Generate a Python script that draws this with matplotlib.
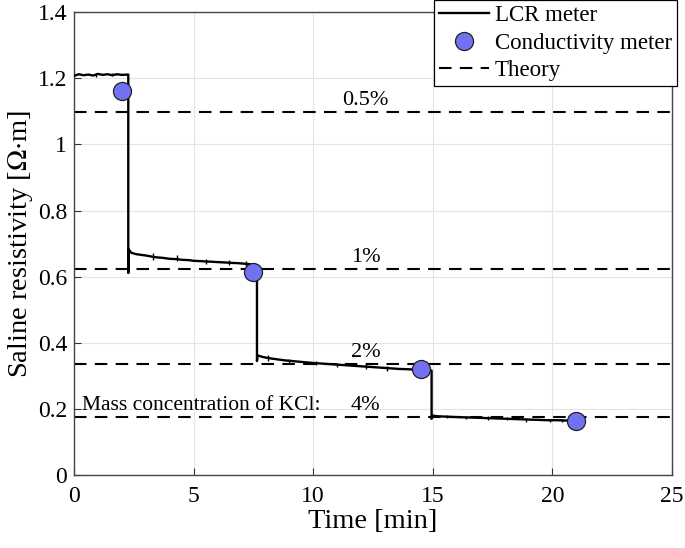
import matplotlib
matplotlib.use('Agg')
import matplotlib.pyplot as plt

plt.rcParams['font.family'] = ['Liberation Serif', 'DejaVu Serif']
plt.rcParams['mathtext.fontset'] = 'stix'

# LCR meter trace
lcr_time = [0.0, 0.2, 0.4, 0.6, 0.8, 1.0, 1.2, 1.4, 1.6, 1.8, 2.0, 2.25,
            2.27, 2.27, 2.28, 2.4, 2.6, 2.8, 3.0, 3.3, 3.5, 3.7, 4.0, 4.3, 4.5,
            4.8, 5.0, 5.3, 5.5, 5.8, 6.0, 6.3, 6.5, 6.8, 7.0, 7.3, 7.62,
            7.65, 7.65, 7.67, 7.9, 8.2, 8.5, 8.8, 9.1, 9.4, 9.7, 10.0, 10.4,
            10.8, 11.2, 11.6, 12.0, 12.4, 12.8, 13.2, 13.6, 14.0, 14.4, 14.9,
            14.95, 14.95, 14.97, 15.2, 15.5, 15.8, 16.2, 16.6, 17.0, 17.4, 17.8,
            18.2, 18.6, 19.0, 19.4, 19.8, 20.2, 20.6, 20.8]
lcr_rho = [1.207, 1.212, 1.209, 1.211, 1.208, 1.213, 1.210, 1.212, 1.209, 1.212, 1.210, 1.211,
           1.211, 0.611, 0.683, 0.672, 0.668, 0.666, 0.664, 0.660, 0.658, 0.657, 0.654, 0.653, 0.651,
           0.650, 0.648, 0.647, 0.646, 0.645, 0.644, 0.643, 0.642, 0.641, 0.640, 0.638, 0.635,
           0.635, 0.345, 0.362, 0.357, 0.353, 0.350, 0.347, 0.345, 0.343, 0.341, 0.339, 0.337,
           0.335, 0.333, 0.331, 0.329, 0.327, 0.325, 0.323, 0.321, 0.320, 0.318, 0.316,
           0.316, 0.170, 0.180, 0.178, 0.177, 0.176, 0.175, 0.174, 0.173, 0.172, 0.171,
           0.170, 0.169, 0.168, 0.167, 0.166, 0.166, 0.165, 0.164]

# short measurement spikes on top of the trace
spike_time = [0.9, 1.6, 3.3, 4.3, 5.5, 6.5, 7.2, 8.1, 9.0, 10.1, 11.0, 12.2, 13.1, 14.2,
              15.6, 16.4, 17.3, 18.1, 18.9, 19.9, 20.4]
spike_low = [1.204, 1.206, 0.650, 0.646, 0.639, 0.635, 0.630, 0.346, 0.336, 0.332, 0.326,
             0.320, 0.316, 0.312, 0.172, 0.170, 0.168, 0.166, 0.162, 0.162, 0.160]
spike_high = [1.216, 1.217, 0.672, 0.664, 0.654, 0.651, 0.646, 0.362, 0.352, 0.344, 0.338,
              0.336, 0.330, 0.325, 0.182, 0.180, 0.178, 0.176, 0.174, 0.171, 0.170]

# conductivity meter readings
cond_time = [2.0, 7.5, 14.5, 21.0]
cond_rho = [1.16, 0.615, 0.322, 0.163]

# theoretical values for each KCl mass concentration
theory_rho = [1.097, 0.622, 0.335, 0.175]
theory_labels = ['0.5%', '1%', '2%', '4%']

fig = plt.figure(figsize=(6.85, 5.48), dpi=100)
ax = fig.add_axes([0.108, 0.133, 0.873, 0.845])

for i, r in enumerate(theory_rho):
    ax.plot([0, 25], [r, r], color='black', linestyle=(0, (6, 4)), linewidth=1.5,
            label='Theory' if i == 0 else None, zorder=2)
    ax.text(12.2, r + 0.006, theory_labels[i], fontsize=16, ha='center', va='bottom')

ax.text(0.35, 0.175 + 0.006, 'Mass concentration of KCl:', fontsize=15.5, ha='left', va='bottom')

ax.plot(lcr_time, lcr_rho, color='black', linewidth=1.7, label='LCR meter', zorder=3)
ax.vlines(spike_time, spike_low, spike_high, color='black', linewidth=1.0, zorder=3)
ax.plot(cond_time, cond_rho, linestyle='none', marker='o', markersize=13,
        markerfacecolor='#7171F2', markeredgecolor='#222222', markeredgewidth=0.9,
        label='Conductivity meter', zorder=4)

ax.set_xlim(0, 25)
ax.set_ylim(0, 1.4)
ax.set_xticks([0, 5, 10, 15, 20, 25])
ax.set_yticks([0, 0.2, 0.4, 0.6, 0.8, 1.0, 1.2, 1.4])
ax.set_yticklabels(['0', '0.2', '0.4', '0.6', '0.8', '1', '1.2', '1.4'])
ax.tick_params(direction='in', labelsize=17, length=5, color='#333333', pad=5)
ax.tick_params(axis='x', pad=8)
ax.grid(True, color='#e3e3e3', linewidth=0.8)
ax.set_axisbelow(True)
for s in ax.spines.values():
    s.set_color('#444444')
    s.set_linewidth(1.0)

ax.set_xlabel('Time [min]', fontsize=20.5, labelpad=1)
ax.set_ylabel('Saline resistivity [$\\Omega$$\\cdot$m]', fontsize=20.5, labelpad=2)

handles, labels = ax.get_legend_handles_labels()
order = [labels.index('LCR meter'), labels.index('Conductivity meter'), labels.index('Theory')]
leg = ax.legend([handles[i] for i in order], [labels[i] for i in order],
                loc='upper right', bbox_to_anchor=(0.988, 1.0),
                bbox_transform=fig.transFigure, fontsize=16.5, fancybox=False,
                framealpha=1, edgecolor='black', borderpad=0.2, labelspacing=0.3,
                handlelength=2.2, handletextpad=0.25, borderaxespad=0)
leg.get_frame().set_linewidth(0.9)

fig.savefig('out.png', dpi=100)
